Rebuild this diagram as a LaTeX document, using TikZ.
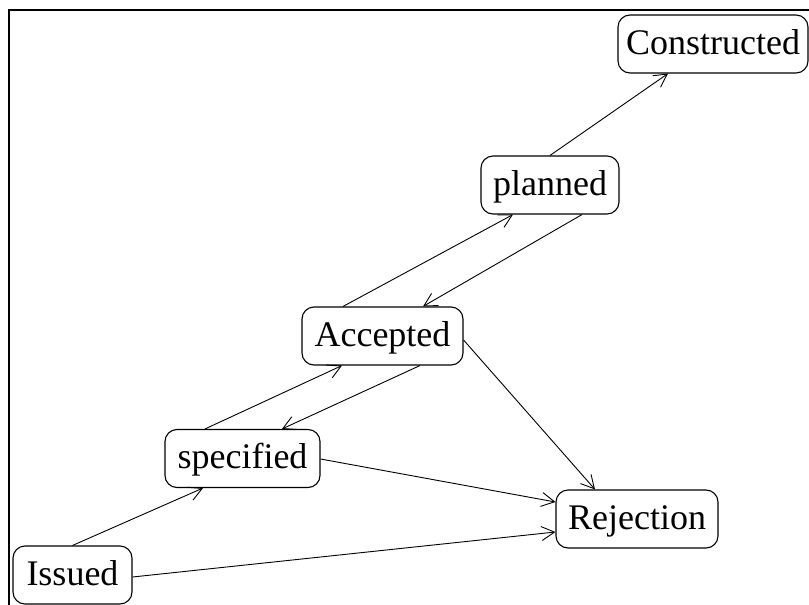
\documentclass[tikz,border=0pt]{standalone}
\usepackage{fontspec}
\setmainfont{Liberation Serif}
\usetikzlibrary{arrows.meta}
\begin{document}
\begin{tikzpicture}[x=1pt,y=1pt,
  state/.style={draw, rounded corners=12pt, line width=1.1pt, font=\fontsize{36}{40}\selectfont,
    minimum height=58pt, inner xsep=0pt, text height=26pt, text depth=6pt},
  flow/.style={line width=0.9pt, -{Straight Barb[length=13pt,width=14pt,line width=0.9pt]}}]
\useasboundingbox (0,0) rectangle (809,-605);
\clip (0,0) rectangle (809,-605);
% outer frame (runs past the right and bottom edges)
\draw[line width=2.6pt] (9,-620) -- (9,-10) -- (830,-10);

\node[state, minimum width=190pt] (constructed) at (713,-44) {Constructed};
\node[state, minimum width=138pt] (planned) at (550,-185) {planned};
\node[state, minimum width=161pt] (accepted) at (382.5,-336) {Accepted};
\node[state, minimum width=155pt] (specified) at (242.5,-458.5) {specified};
\node[state, minimum width=162pt] (rejection) at (637,-519) {Rejection};
\node[state, minimum width=119pt] (issued) at (72.5,-575) {Issued};

\draw[flow] (issued.north) -- ([xshift=-39.5pt]specified.south);
\draw[flow] ([yshift=-2pt]issued.east) -- ([yshift=-13pt]rejection.west);
\draw[flow] ([xshift=-37.5pt]specified.north) -- ([xshift=-40.5pt]accepted.south);
\draw[flow] ([xshift=37.5pt]accepted.south) -- ([xshift=39.5pt]specified.north);
\draw[flow] ([yshift=-0.5pt]specified.east) -- ([yshift=17pt]rejection.west);
\draw[flow] ([yshift=-4pt]accepted.east) -- ([xshift=-42pt]rejection.north);
\draw[flow] ([xshift=-39.5pt]accepted.north) -- ([xshift=-37pt]planned.south);
\draw[flow] ([xshift=32pt]planned.south) -- ([xshift=40.5pt]accepted.north);
\draw[flow] (planned.north) -- ([xshift=-45pt]constructed.south);
\end{tikzpicture}
\end{document}
